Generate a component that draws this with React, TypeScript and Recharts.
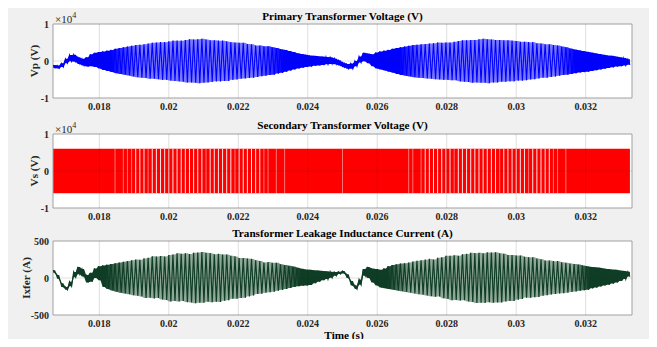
import { Area, CartesianGrid, ComposedChart, Line, ReferenceArea, ReferenceLine, XAxis, YAxis } from "recharts";

// one sample per switching cycle: upper / lower value
const T0 = 1 / 60;
const T1 = 1 / 30;
const CYCLE = 1 / 8400;

const xTicks = [0.018, 0.02, 0.022, 0.024, 0.026, 0.028, 0.03, 0.032];
const xTickLabels = ["0.018", "0.02", "0.022", "0.024", "0.026", "0.028", "0.03", "0.032"];

const vpTicks = [-10000, 0, 10000];
const vpTickLabels = ["-1", "0", "1"];
const ixTicks = [-500, 0, 500];
const ixTickLabels = ["-500", "0", "500"];

// primary voltage (V)
const vpHi = [
  -1100, -1200, -600, 600, 1600, 1700, 1000, 600, 1000, 1800,
  2200, 2400, 2600, 2800, 3000, 3300, 3500, 3700, 3900, 4100,
  4300, 4400, 4500, 4700, 4900, 5000, 5100, 5100, 5300, 5500,
  5500, 5500, 5700, 5900, 5800, 5900, 6000, 5800, 5600, 5600,
  5500, 5500, 5300, 5100, 5000, 4900, 4900, 4600, 4500, 4200,
  4200, 4000, 4000, 3700, 3500, 3200, 3000, 2700, 2400, 2100,
  1900, 1700, 1500, 1400, 1300, 1200, 1100, 1000, 700, 200,
  -400, -800, -700, 0, 1200, 2200, 2000, 1800, 2300, 2600,
  2800, 3000, 3300, 3500, 3700, 3900, 4100, 4300, 4400, 4500,
  4600, 4700, 4800, 5000, 4900, 5000, 5000, 5200, 5400, 5600,
  5600, 5700, 5700, 5900, 6000, 5900, 5800, 5700, 5700, 5600,
  5600, 5500, 5400, 5200, 5200, 5100, 5100, 4800, 4700, 4500,
  4500, 4300, 4200, 3900, 3700, 3400, 3100, 2900, 2700, 2500,
  2300, 2100, 1900, 1700, 1500, 1400, 1200, 1000, 800, 500,
];
const vpLo = [
  -1900, -2000, -1600, -600, -100, -200, -800, -1200, -1500, -1400,
  -1600, -2000, -2400, -2700, -3000, -3300, -3500, -3700, -3900, -4200,
  -4400, -4500, -4600, -4800, -4800, -4900, -5100, -5100, -5300, -5400,
  -5500, -5600, -5800, -5800, -5900, -6000, -5900, -5800, -5700, -5500,
  -5500, -5400, -5400, -5100, -5000, -4800, -4700, -4600, -4500, -4300,
  -4100, -4000, -3800, -3700, -3400, -3200, -2900, -2600, -2300, -2000,
  -1800, -1600, -1500, -1300, -1200, -1100, -900, -800, -900, -1200,
  -1700, -2100, -2100, -1400, -400, -100, -600, -1400, -2000, -2300,
  -2600, -2900, -3200, -3500, -3800, -4000, -4200, -4400, -4500, -4600,
  -4700, -4800, -4900, -5000, -5100, -5100, -5200, -5200, -5500, -5600,
  -5700, -5900, -5800, -5900, -5900, -6000, -5800, -5800, -5600, -5600,
  -5500, -5500, -5300, -5300, -5200, -5000, -4900, -4700, -4500, -4500,
  -4300, -4200, -4000, -3800, -3700, -3500, -3300, -3100, -3000, -2900,
  -2700, -2500, -2300, -2100, -1900, -1700, -1500, -1400, -1200, -1000,
];

// secondary voltage: two-level square wave, white slivers where the switching leaves a gap
const vsRail = 6000;
const vsGapStrong = [
  20, 21, 22, 24, 25, 26, 27, 28, 29, 30, 31, 32, 33, 34, 35, 36, 38, 39, 40, 41, 42, 43, 45, 46, 47, 48, 49, 50,
  90, 91, 92, 93, 94, 95, 96, 98, 99, 100, 101, 102, 103, 104, 105, 106, 107, 109, 110, 111, 112, 113, 114, 116, 117, 118, 119, 120,
];
const vsGapFaint = [15, 17, 18, 19, 23, 37, 44, 51, 52, 54, 56, 70, 86, 87, 89, 97, 108, 115, 121, 122, 124];

// leakage inductance current (A)
const ixHi = [
  105, 40, -70, -120, -50, 80, 150, 120, 40, 70,
  130, 160, 170, 180, 190, 200, 210, 220, 230, 240,
  250, 245, 265, 272, 295, 290, 298, 290, 312, 318,
  335, 328, 333, 325, 340, 345, 350, 340, 336, 320,
  326, 318, 318, 300, 292, 270, 270, 262, 258, 240,
  230, 210, 215, 205, 205, 185, 175, 165, 155, 140,
  125, 115, 110, 105, 100, 95, 90, 85, 80, 85,
  95, 50, -40, -100, -20, 120, 150, 130, 120, 110,
  130, 160, 175, 185, 195, 200, 210, 222, 232, 240,
  248, 258, 250, 272, 280, 300, 300, 308, 300, 320,
  326, 340, 336, 340, 335, 346, 344, 348, 335, 328,
  310, 312, 304, 305, 288, 280, 280, 262, 252, 236,
  236, 228, 228, 212, 205, 196, 190, 182, 170, 160,
  150, 145, 140, 130, 122, 115, 110, 100, 95, 85,
];
const ixLo = [
  70, -10, -120, -160, -110, 10, 50, 20, -60, -50,
  0, -30, -120, -150, -170, -185, -200, -210, -220, -232,
  -240, -250, -270, -266, -275, -270, -290, -298, -318, -310,
  -316, -310, -326, -330, -340, -335, -334, -320, -328, -322,
  -325, -308, -300, -280, -280, -270, -268, -248, -236, -215,
  -212, -200, -192, -185, -172, -160, -148, -135, -122, -112,
  -105, -100, -95, -70, -50, -30, -15, 5, 30, 55,
  60, 0, -100, -150, -90, 30, 0, -60, -100, -130,
  -140, -150, -160, -170, -180, -190, -200, -210, -218, -225,
  -235, -245, -254, -250, -272, -282, -300, -298, -305, -300,
  -318, -324, -338, -334, -336, -328, -334, -330, -330, -318,
  -310, -310, -292, -284, -265, -268, -260, -258, -240, -232,
  -224, -216, -210, -205, -198, -190, -182, -172, -165, -158,
  -140, -130, -115, -100, -90, -75, -60, -40, -15, 20,
];

const cycleTime = (k: number) => T0 + k * CYCLE;

// two rows per cycle (peak, then trough half a cycle later)
const rows = vpHi.flatMap((_, k) => {
  const t = cycleTime(k);
  const bands = {
    vpBand: [vpLo[k], vpHi[k]],
    vsBand: [-vsRail, vsRail],
    ixBand: [ixLo[k], ixHi[k]],
  };
  return [
    { t, vp: vpHi[k], ix: ixHi[k], ...bands },
    { t: t + CYCLE / 2, vp: vpLo[k], ix: ixLo[k], ...bands },
  ];
});

const FONT = "Liberation Serif, Times New Roman, serif";
const INK = "#262626";
const FRAME = "#a0a0a0";

const tickStyle = { fill: INK, fontSize: 10, fontWeight: 700, fontFamily: FONT };

function xLabel(v: number) {
  const i = xTicks.findIndex((x) => Math.abs(x - v) < 1e-9);
  return i >= 0 ? xTickLabels[i] : "";
}

function Panel({
  top,
  yDomain,
  yTicks,
  yTickLabels,
  series,
}: {
  top: number;
  yDomain: [number, number];
  yTicks: number[];
  yTickLabels: string[];
  series: React.ReactNode[];
}) {
  return (
    <div style={{ position: "absolute", left: 0, top, width: 657, height: 116, fontFamily: FONT }}>
      <ComposedChart
        width={657}
        height={116}
        data={rows}
        margin={{ top: 24, right: 25, bottom: 0, left: 23 }}
        style={{ fontFamily: FONT }}
      >
        <CartesianGrid fill="#ffffff" horizontal={false} vertical={false} />
        <XAxis
          dataKey="t"
          type="number"
          domain={[T0, T1]}
          ticks={xTicks}
          tickFormatter={xLabel}
          tick={tickStyle}
          tickLine={false}
          tickSize={0}
          tickMargin={5}
          axisLine={false}
          height={18}
          allowDataOverflow
        />
        <YAxis
          type="number"
          domain={yDomain}
          ticks={yTicks}
          tickFormatter={(v: number) => yTickLabels[yTicks.indexOf(v)] ?? ""}
          tick={tickStyle}
          tickLine={false}
          tickSize={0}
          tickMargin={4}
          axisLine={false}
          width={30}
          allowDataOverflow
        />
        {series}
        {xTicks.map((x) => (
          <ReferenceLine key={`g${x}`} x={x} stroke={INK} strokeOpacity={0.15} />
        ))}
        <ReferenceLine y={0} stroke={INK} strokeOpacity={0.15} />
        <ReferenceArea x1={T0} x2={T1} y1={yDomain[0]} y2={yDomain[1]} fill="none" stroke={FRAME} strokeWidth={1} />
      </ComposedChart>
    </div>
  );
}

const labelBase: React.CSSProperties = {
  position: "absolute",
  fontFamily: FONT,
  fontWeight: 700,
  color: "#000",
  whiteSpace: "nowrap",
  lineHeight: 1,
};

function Title({ text, y }: { text: string; y: number }) {
  return (
    <div style={{ ...labelBase, left: 342.5, top: y, fontSize: 11.2, transform: "translate(-50%, -50%)" }}>{text}</div>
  );
}

function YLabel({ text, x, y }: { text: string; x: number; y: number }) {
  return (
    <div
      style={{
        ...labelBase,
        left: x,
        top: y,
        fontSize: 11.2,
        color: INK,
        transform: "translate(-50%, -50%) rotate(-90deg)",
      }}
    >
      {text}
    </div>
  );
}

function Exponent({ y }: { y: number }) {
  return (
    <div style={{ ...labelBase, left: 55, top: y, fontSize: 11, fontWeight: 400, color: INK }}>
      ×10<sup style={{ fontSize: 8 }}>4</sup>
    </div>
  );
}

export default function App() {
  const vpSeries = [
    <defs key="d">
      <linearGradient id="vpFill" x1="0" y1="0" x2="1" y2="0">
        <stop offset="0.1" stopColor="#0000ff" />
        <stop offset="0.15" stopColor="#7878ff" />
        <stop offset="0.35" stopColor="#7878ff" />
        <stop offset="0.4" stopColor="#0000ff" />
        <stop offset="0.6" stopColor="#0000ff" />
        <stop offset="0.645" stopColor="#7878ff" />
        <stop offset="0.87" stopColor="#7878ff" />
        <stop offset="0.905" stopColor="#0000ff" />
      </linearGradient>
    </defs>,
    <Area key="a" type="linear" dataKey="vpBand" stroke="none" fill="url(#vpFill)" fillOpacity={1} isAnimationActive={false} />,
    <Line key="l" type="linear" dataKey="vp" stroke="#0000ff" strokeWidth={1.1} dot={false} isAnimationActive={false} />,
  ];

  const vsSeries = [
    <Area key="a" type="linear" dataKey="vsBand" stroke="none" fill="#ff0000" fillOpacity={1} isAnimationActive={false} />,
    ...vsGapStrong.map((k) => (
      <ReferenceLine
        key={`s${k}`}
        segment={[{ x: cycleTime(k), y: -vsRail }, { x: cycleTime(k), y: vsRail }]}
        stroke="#ffffff"
        strokeOpacity={0.9}
      />
    )),
    ...vsGapFaint.map((k) => (
      <ReferenceLine
        key={`f${k}`}
        segment={[{ x: cycleTime(k), y: -vsRail }, { x: cycleTime(k), y: vsRail }]}
        stroke="#ffffff"
        strokeOpacity={0.45}
      />
    )),
  ];

  const ixSeries = [
    <defs key="d">
      <linearGradient id="ixFill" x1="0" y1="0" x2="1" y2="0">
        <stop offset="0.09" stopColor="#0f3d26" />
        <stop offset="0.14" stopColor="#8fa898" />
        <stop offset="0.38" stopColor="#8fa898" />
        <stop offset="0.43" stopColor="#0f3d26" />
        <stop offset="0.58" stopColor="#0f3d26" />
        <stop offset="0.62" stopColor="#8fa898" />
        <stop offset="0.9" stopColor="#8fa898" />
        <stop offset="0.93" stopColor="#0f3d26" />
      </linearGradient>
    </defs>,
    <Area key="a" type="linear" dataKey="ixBand" stroke="none" fill="url(#ixFill)" fillOpacity={1} isAnimationActive={false} />,
    <Line key="l" type="linear" dataKey="ix" stroke="#0f3d26" strokeWidth={1.2} dot={false} isAnimationActive={false} />,
  ];

  return (
    <div style={{ position: "relative", width: 657, height: 347, margin: -8, background: "#fff", overflow: "hidden" }}>
      <div style={{ position: "absolute", left: 6, top: 5, width: 649, height: 335, background: "#f0f0f0" }} />

      <Panel top={0} yDomain={[-10000, 10000]} yTicks={vpTicks} yTickLabels={vpTickLabels} series={vpSeries} />
      <Panel top={110} yDomain={[-10000, 10000]} yTicks={vpTicks} yTickLabels={vpTickLabels} series={vsSeries} />
      <Panel top={217} yDomain={[-500, 500]} yTicks={ixTicks} yTickLabels={ixTickLabels} series={ixSeries} />

      <Title text="Primary Transformer Voltage (V)" y={17} />
      <Title text="Secondary Transformer Voltage (V)" y={126} />
      <Title text="Transformer Leakage Inductance Current (A)" y={234} />

      <Exponent y={12} />
      <Exponent y={122} />

      <YLabel text="Vp (V)" x={35} y={61} />
      <YLabel text="Vs (V)" x={35} y={171} />
      <YLabel text="Ixfer (A)" x={27} y={278} />

      <div style={{ ...labelBase, left: 344, top: 336, fontSize: 11.2, transform: "translate(-50%, -50%)" }}>Time (s)</div>
    </div>
  );
}
